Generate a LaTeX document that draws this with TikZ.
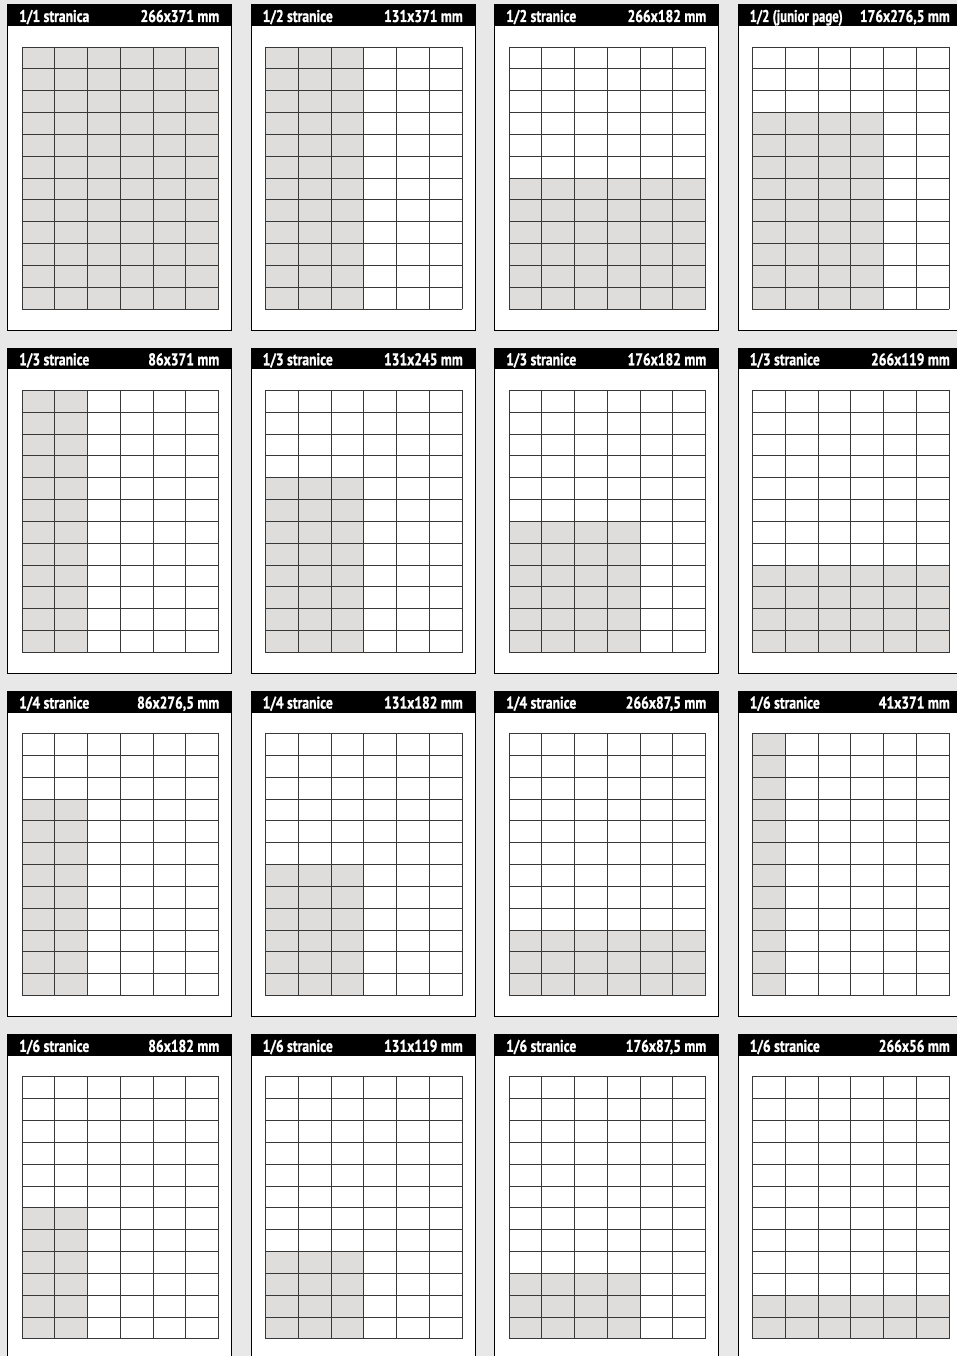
\documentclass[tikz,border=0pt]{standalone}
\usepackage{fontspec}
\newfontfamily\hdrfont{PT Sans Bold}[FakeStretch=0.8, FakeBold=1.0]
\definecolor{bg}{HTML}{E8E8E8}
\definecolor{shadec}{HTML}{DEDDDB}
\tikzset{
  panelbody/.style={fill=white, draw=black, line width=1pt},
  headerbar/.style={fill=black},
  hdrtext/.style={text=white, font=\hdrfont\fontsize{17}{17}\selectfont, inner sep=0pt},
  gridl/.style={draw=black!78, line width=0.9pt, line cap=rect},
  shadefill/.style={fill=shadec},
}
\newcommand\adpanel[9]{%
  \pgfmathsetmacro\PX{7.5+243.5*#1}%
  \pgfmathsetmacro\PY{5+343.3*#2}%
  \path[panelbody] (\PX,\PY) rectangle ++(224,325);
  \path[headerbar] (\PX,\PY) rectangle ++(224,21);
  \node[hdrtext, anchor=base west] (#9l) at (\PX+11.5,\PY+17) {#3};
  \node[hdrtext, anchor=base east] (#9r) at (\PX+212,\PY+17) {#4};
  \fill[shadefill] ({\PX+14.5+#5*32.75},{\PY+42+#7*21.8333}) rectangle ({\PX+14.5+#6*32.75},{\PY+42+#8*21.8333});
  \foreach \k in {0,...,6} \draw[gridl] ({\PX+14.5+\k*32.75},\PY+42) -- ++(0,262);
  \foreach \k in {0,...,12} \draw[gridl] (\PX+14.5,{\PY+42+\k*21.8333}) -- ++(196.5,0);
}
\begin{document}
\begin{tikzpicture}[x=1pt,y=-1pt]
\useasboundingbox (0,0) rectangle (957,1356);
\clip (0,0) rectangle (957,1356);
\fill[bg] (0,0) rectangle (957,1356);
% row 1
\adpanel{0}{0}{1/1 stranica}{266x371 mm}{0}{6}{0}{12}{pa}
\adpanel{1}{0}{1/2 stranice}{131x371 mm}{0}{3}{0}{12}{pb}
\adpanel{2}{0}{1/2 stranice}{266x182 mm}{0}{6}{6}{12}{pc}
\adpanel{3}{0}{\scalebox{0.94}[1]{1/2 (junior page)}}{176x276,5 mm}{0}{4}{3}{12}{pd}
% row 2
\adpanel{0}{1}{1/3 stranice}{86x371 mm}{0}{2}{0}{12}{pe}
\adpanel{1}{1}{1/3 stranice}{131x245 mm}{0}{3}{4}{12}{pf}
\adpanel{2}{1}{1/3 stranice}{176x182 mm}{0}{4}{6}{12}{pg}
\adpanel{3}{1}{1/3 stranice}{266x119 mm}{0}{6}{8}{12}{ph}
% row 3
\adpanel{0}{2}{1/4 stranice}{86x276,5 mm}{0}{2}{3}{12}{pi}
\adpanel{1}{2}{1/4 stranice}{131x182 mm}{0}{3}{6}{12}{pj}
\adpanel{2}{2}{1/4 stranice}{266x87,5 mm}{0}{6}{9}{12}{pk}
\adpanel{3}{2}{1/6 stranice}{41x371 mm}{0}{1}{0}{12}{pl}
% row 4
\adpanel{0}{3}{1/6 stranice}{86x182 mm}{0}{2}{6}{12}{pm}
\adpanel{1}{3}{1/6 stranice}{131x119 mm}{0}{3}{8}{12}{pn}
\adpanel{2}{3}{1/6 stranice}{176x87,5 mm}{0}{4}{9}{12}{po}
\adpanel{3}{3}{1/6 stranice}{266x56 mm}{0}{6}{10}{12}{pp}
\end{tikzpicture}
\end{document}
